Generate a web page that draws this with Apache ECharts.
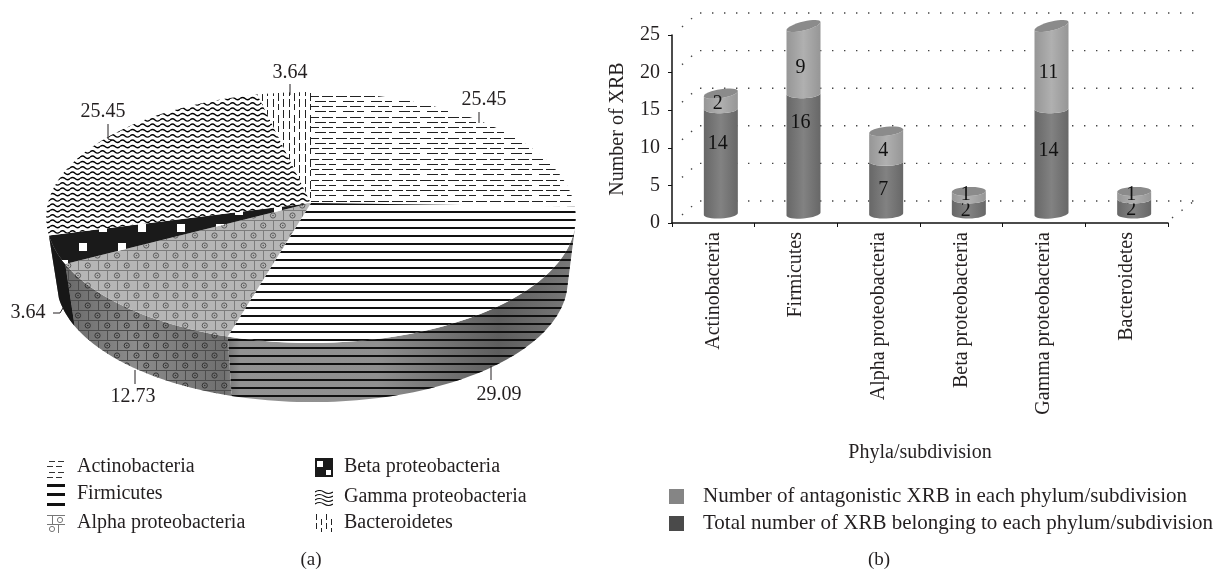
<!DOCTYPE html>
<html>
<head>
<meta charset="utf-8">
<style>html,body{margin:0;padding:0;background:#fff}#main{width:1218px;height:573px}</style>
<script src="https://cdn.jsdelivr.net/npm/echarts@6/dist/echarts.min.js"></script>
</head>
<body>
<div id="main"></div>
<script>
// (a) share of each phylum
var pieNames = ['Actinobacteria', 'Firmicutes', 'Alpha proteobacteria', 'Beta proteobacteria', 'Gamma proteobacteria', 'Bacteroidetes'];
var pieValues = [25.45, 29.09, 12.73, 3.64, 25.45, 3.64];

// (b) stacked cylinders
var phyla = ['Actinobacteria', 'Firmicutes', 'Alpha proteobacteria', 'Beta proteobacteria', 'Gamma proteobacteria', 'Bacteroidetes'];
var totalXRB = [14, 16, 7, 2, 14, 2];
var antagonisticXRB = [2, 9, 4, 1, 11, 1];
var yTicks = [0, 5, 10, 15, 20, 25];

var FONT = '"Liberation Serif", serif';
var INK = '#231f20';
var FS = 20;

// label placement, not data
var pieLabelAt = [[484, 100], [499, 395], [133, 397], [28, 313], [103, 112], [290, 73]];
var pieLeaders = [
    [[479, 112], [479, 123]],
    [[491, 366], [491, 380]],
    [[135, 370], [135, 384]],
    [[53, 313], [60, 313], [63, 308]],
    [[108, 124], [108, 139], [112, 140]],
    [[290, 84], [290, 95]]
];
var darkLabelNudge = [-18, -31, 2, 4, -11, 3.5];
var lightLabelNudge = [2.5, 8, 4.5, 0, 5, 0];

// ---------- fill patterns ----------
function tile(w, h, draw) {
    var c = document.createElement('canvas');
    c.width = w;
    c.height = h;
    draw(c.getContext('2d'));
    return {image: c, repeat: 'repeat'};
}

var patActino = tile(28, 21, function (g) {
    g.fillStyle = '#fff';
    g.fillRect(0, 0, 28, 21);
    g.fillStyle = '#222';
    for (var r = 0; r < 4; r++) {
        var off = r % 2 ? 7 : 0;
        var y = Math.round(r * 5.25) + 1;
        g.fillRect(off, y, 11, 1);
        g.fillRect((off + 14) % 28, y, 11, 1);
    }
});

function linesTile(bg) {
    return tile(8, 8, function (g) {
        if (bg) {
            g.fillStyle = bg;
            g.fillRect(0, 0, 8, 8);
        }
        g.fillStyle = '#111';
        g.fillRect(0, 3, 8, 2);
    });
}
var patFirm = linesTile('#fff');
var patFirmWall = linesTile(null);

function brickTile(bg, line, dot) {
    return tile(39, 20, function (g) {
        if (bg) {
            g.fillStyle = bg;
            g.fillRect(0, 0, 39, 20);
        }
        g.strokeStyle = line;
        g.lineWidth = 1;
        g.beginPath();
        g.moveTo(0, 0.5); g.lineTo(39, 0.5);
        g.moveTo(0, 10.5); g.lineTo(39, 10.5);
        [0, 19.5].forEach(function (x) {
            g.moveTo(Math.round(x) + 0.5, 0); g.lineTo(Math.round(x) + 0.5, 10);
            g.moveTo(Math.round(x + 9.75) + 0.5, 10); g.lineTo(Math.round(x + 9.75) + 0.5, 20);
        });
        g.stroke();
        g.strokeStyle = dot;
        g.fillStyle = dot;
        [[9.75, 5.5], [29.25, 5.5], [0, 15.5], [19.5, 15.5], [39, 15.5]].forEach(function (p) {
            g.beginPath();
            g.arc(p[0], p[1], 2.6, 0, Math.PI * 2);
            g.stroke();
            g.beginPath();
            g.arc(p[0], p[1], 0.8, 0, Math.PI * 2);
            g.fill();
        });
    });
}
var patAlpha = brickTile('#b6b6b6', '#7d7d7d', '#5a5a5a');
var patAlphaWall = brickTile(null, '#4d4d4d', '#333');

var patBeta = tile(39, 36, function (g) {
    g.fillStyle = '#1a1a1a';
    g.fillRect(0, 0, 39, 36);
    g.fillStyle = '#fff';
    g.fillRect(1, 27, 8, 8);
    g.fillRect(21, 8, 8, 8);
});

var patGamma = tile(10, 16, function (g) {
    g.fillStyle = '#fff';
    g.fillRect(0, 0, 10, 16);
    g.strokeStyle = '#000';
    g.lineWidth = 1.4;
    for (var r = 0; r < 3; r++) {
        var y = r * 5.33 + 2.6;
        g.beginPath();
        g.moveTo(0, y);
        g.quadraticCurveTo(2.5, y - 2.4, 5, y);
        g.quadraticCurveTo(7.5, y + 2.4, 10, y);
        g.stroke();
    }
});

var patBact = tile(16, 22, function (g) {
    g.fillStyle = '#fff';
    g.fillRect(0, 0, 16, 22);
    g.fillStyle = '#222';
    [[1, 0], [6, 5], [11, 0]].forEach(function (c) {
        g.fillRect(c[0], c[1], 1, 8);
        g.fillRect(c[0], c[1] + 11, 1, 8);
    });
});

// legend swatches are small crops of the patterns, drawn once each
var swatches = [
    tile(18, 18, function (g) {
        g.fillStyle = '#333';
        [1, 6, 12, 17].forEach(function (y, r) {
            g.fillRect(r % 2 ? 0 : 2, y, 6, 1);
            g.fillRect(r % 2 ? 9 : 11, y, 6, 1);
        });
    }),
    tile(18, 22, function (g) {
        g.fillStyle = '#111';
        g.fillRect(0, 0, 18, 3);
        g.fillRect(0, 9, 18, 3);
        g.fillRect(0, 19, 18, 3);
    }),
    tile(18, 18, function (g) {
        g.strokeStyle = '#777';
        g.beginPath();
        g.moveTo(0, 0.5); g.lineTo(18, 0.5);
        g.moveTo(5.5, 0); g.lineTo(5.5, 9);
        g.moveTo(0, 9.5); g.lineTo(18, 9.5);
        g.moveTo(11.5, 9); g.lineTo(11.5, 18);
        g.stroke();
        g.beginPath();
        g.arc(13, 5, 2.6, 0, Math.PI * 2);
        g.stroke();
        g.beginPath();
        g.arc(5, 14, 2.6, 0, Math.PI * 2);
        g.stroke();
    }),
    tile(18, 19, function (g) {
        g.fillStyle = '#1a1a1a';
        g.fillRect(0, 0, 18, 19);
        g.fillStyle = '#fff';
        g.fillRect(2, 3, 6, 6);
        g.fillRect(11, 12, 5, 5);
    }),
    tile(18, 18, function (g) {
        g.strokeStyle = '#111';
        g.lineWidth = 1.1;
        [2, 6, 10, 14].forEach(function (y) {
            g.beginPath();
            g.moveTo(0, y);
            g.quadraticCurveTo(4.5, y - 3, 9, y);
            g.quadraticCurveTo(13.5, y + 3, 18, y);
            g.stroke();
        });
    }),
    tile(18, 18, function (g) {
        g.fillStyle = '#222';
        [[1, 0], [6, 5], [11, 0], [16, 5]].forEach(function (c) {
            g.fillRect(c[0], c[1], 1, 6);
            g.fillRect(c[0], c[1] + 9, 1, 6);
        });
    })
];

var topFills = [patActino, patFirm, patAlpha, patBeta, patGamma, patBact];
var wallFills = [null, patFirmWall, patAlphaWall, '#171717', null, null];

// ---------- pie geometry: circle seen through a perspective tilt ----------
var lid = {cx: 311, cy: 203, r: 263, s: 123.8, p: 0.1155};
var floor = {cx: 312, cy: 267, r: 254, s: 119.5, p: 0.1155};
var WALL_FROM = 11; // the wall only shows past this angle on the right

function piePoint(disc, deg) {
    var a = deg * Math.PI / 180;
    var w = 1 - disc.p * Math.sin(a);
    return [disc.cx + disc.r * Math.cos(a) / w, disc.cy + disc.s * Math.sin(a) / w];
}
function arcPoints(disc, from, to) {
    var pts = [];
    var n = Math.max(2, Math.ceil(Math.abs(to - from) / 1.5));
    for (var i = 0; i <= n; i++) {
        pts.push(piePoint(disc, from + (to - from) * i / n));
    }
    return pts;
}
var pieSum = pieValues.reduce(function (a, b) { return a + b; }, 0);
var pieAngles = [];
var cursor = -90;
pieValues.forEach(function (v) {
    var next = cursor + v / pieSum * 360;
    pieAngles.push([cursor, next]);
    cursor = next;
});
var WALL_TO = pieAngles[3][1]; // beta edge, nothing further round is visible

function renderPieWall(params) {
    var i = params.dataIndex;
    if (!wallFills[i]) {
        return null;
    }
    var from = Math.max(pieAngles[i][0], WALL_FROM);
    var to = Math.min(pieAngles[i][1], WALL_TO);
    var pts = arcPoints(lid, from, to).concat(arcPoints(floor, to, from));
    return {
        type: 'group',
        children: [
            {
                type: 'polygon',
                shape: {points: pts},
                style: {
                    fill: {
                        type: 'linear', global: true, x: 50, y: 0, x2: 578, y2: 0,
                        colorStops: [
                            {offset: 0, color: '#626262'},
                            {offset: 0.16, color: '#8c8c8c'},
                            {offset: 0.33, color: '#6f6f6f'},
                            {offset: 0.36, color: '#929292'},
                            {offset: 0.62, color: '#8f8f8f'},
                            {offset: 0.85, color: '#5e5e5e'},
                            {offset: 1, color: '#7a7a7a'}
                        ]
                    }
                }
            },
            {type: 'polygon', shape: {points: pts}, style: {fill: wallFills[i]}}
        ]
    };
}

function renderPieTop(params) {
    var i = params.dataIndex;
    var pts = [[lid.cx, lid.cy]].concat(arcPoints(lid, pieAngles[i][0], pieAngles[i][1]));
    return {type: 'polygon', shape: {points: pts}, style: {fill: topFills[i]}};
}

function renderPieLabel(params, api) {
    var i = params.dataIndex;
    return {
        type: 'group',
        children: [
            {
                type: 'polyline',
                shape: {points: pieLeaders[i]},
                style: {stroke: INK, lineWidth: 1, fill: null}
            },
            {
                type: 'text',
                x: pieLabelAt[i][0],
                y: pieLabelAt[i][1],
                style: {
                    text: api.value(0).toFixed(2),
                    fill: INK,
                    font: FS + 'px ' + FONT,
                    align: 'center',
                    verticalAlign: 'middle'
                }
            }
        ]
    };
}

// ---------- cylinders ----------
var BAR_W = 34;
var BAR_DX = 7.5;
var BAR_DY = -9;
var CAP_RY = 4.5;

function frontArc(cx, y, tilt, leftToRight) {
    var pts = [];
    for (var k = 0; k <= 16; k++) {
        var t = Math.PI * (leftToRight ? k : 16 - k) / 16;
        pts.push([cx - BAR_W / 2 * Math.cos(t), y + tilt / 2 * Math.cos(t) + CAP_RY * Math.sin(t)]);
    }
    return pts;
}

function cylinderRenderer(edge, middle, nudge, capped) {
    return function (params, api) {
        var i = api.value(0);
        var lo = api.value(1);
        var hi = api.value(2);
        var cx = api.coord([i, 0])[0] + BAR_DX;
        var yLo = api.coord([i, lo])[1] + BAR_DY;
        var yHi = api.coord([i, hi])[1] + BAR_DY;
        var tiltLo = lo === 0 ? (totalXRB[i] + antagonisticXRB[i]) * 0.12 : lo * 0.05;
        var tiltHi = capped ? hi * 0.32 : hi * 0.05;
        var pts = frontArc(cx, yLo, tiltLo, true).concat(frontArc(cx, yHi, tiltHi, false));
        var children = [{
            type: 'polygon',
            shape: {points: pts},
            style: {
                fill: {
                    type: 'linear', x: 0, y: 0, x2: 1, y2: 0,
                    colorStops: [
                        {offset: 0, color: edge},
                        {offset: 0.5, color: middle},
                        {offset: 1, color: edge}
                    ]
                }
            }
        }];
        if (capped) {
            var cap = frontArc(cx, yHi, tiltHi, true);
            for (var k = 15; k > 0; k--) {
                var p = cap[k];
                var yMid = yHi + tiltHi / 2 * ((cx - p[0]) / (BAR_W / 2));
                cap.push([p[0], 2 * yMid - p[1]]);
            }
            children.push({type: 'polygon', shape: {points: cap}, style: {fill: '#8b8b8b'}});
        }
        children.push({
            type: 'text',
            x: cx - 3,
            y: (yLo + yHi) / 2 + nudge[i],
            style: {
                text: String(hi - lo),
                fill: '#111',
                font: FS + 'px ' + FONT,
                align: 'center',
                verticalAlign: 'middle'
            }
        });
        return {type: 'group', children: children};
    };
}

function renderBackWall(params, api) {
    var box = params.coordSys;
    var y = api.coord([0, api.value(0)])[1];
    var dx = 26, dy = -22;
    var dots = {stroke: '#444', lineWidth: 1.4, lineDash: [1.4, 10.6], fill: null};
    var children = [
        {type: 'polyline', shape: {points: [[box.x + dx + 2, y + dy], [box.x + box.width + dx, y + dy]]}, style: dots},
        {type: 'polyline', shape: {points: [[box.x + 10, y - 8], [box.x + dx, y + dy]]}, style: dots}
    ];
    if (api.value(0) === 0) {
        children.push({
            type: 'polyline',
            shape: {points: [[box.x + box.width + 4, y - 5], [box.x + box.width + dx, y + dy]]},
            style: dots
        });
    }
    return {type: 'group', children: children};
}

var darkRows = phyla.map(function (n, i) { return [i, 0, totalXRB[i]]; });
var lightRows = phyla.map(function (n, i) { return [i, totalXRB[i], totalXRB[i] + antagonisticXRB[i]]; });

// ---------- legend of panel (a), patterned swatches ----------
var legendSlots = [
    {x: 47, y: 460, h: 18, tx: 77, ty: 467},
    {x: 47, y: 484, h: 22, tx: 77, ty: 494},
    {x: 47, y: 515, h: 18, tx: 77, ty: 523},
    {x: 315, y: 458, h: 19, tx: 344, ty: 467},
    {x: 315, y: 490, h: 17, tx: 344, ty: 497},
    {x: 315, y: 514, h: 18, tx: 344, ty: 523}
];
var graphics = [];
pieNames.forEach(function (name, i) {
    var s = legendSlots[i];
    graphics.push({
        type: 'rect',
        x: s.x,
        y: s.y,
        shape: {x: 0, y: 0, width: 18, height: s.h},
        style: {fill: swatches[i]},
        silent: true
    });
    graphics.push({
        type: 'text',
        x: s.tx,
        y: s.ty,
        style: {text: name, fill: INK, font: FS + 'px ' + FONT, verticalAlign: 'middle'},
        silent: true
    });
});
[['(a)', 311], ['(b)', 879]].forEach(function (c) {
    graphics.push({
        type: 'text',
        x: c[1],
        y: 560,
        style: {text: c[0], fill: INK, font: '19px ' + FONT, align: 'center', verticalAlign: 'middle'},
        silent: true
    });
});

var chart = echarts.init(document.getElementById('main'), null, {renderer: 'canvas'});
chart.setOption({
    animation: false,
    backgroundColor: '#fff',
    tooltip: {show: false},
    graphic: graphics,
    legend: {
        left: 664,
        top: 481,
        orient: 'vertical',
        icon: 'rect',
        itemWidth: 15,
        itemHeight: 15,
        itemGap: 6,
        selectedMode: false,
        data: ['Number of antagonistic XRB in each phylum/subdivision', 'Total number of XRB belonging to each phylum/subdivision'],
        textStyle: {color: INK, fontFamily: FONT, fontSize: 21, padding: [0, 0, 0, 14]}
    },
    grid: {left: 672, top: 35, width: 496, height: 188},
    xAxis: {
        type: 'category',
        data: phyla,
        name: 'Phyla/subdivision',
        nameLocation: 'middle',
        nameGap: 220,
        nameTextStyle: {color: INK, fontFamily: FONT, fontSize: FS},
        axisLine: {lineStyle: {color: '#111', width: 1.5}},
        axisTick: {show: true, length: 4, lineStyle: {color: '#111'}},
        axisLabel: {
            rotate: 90,
            interval: 0,
            margin: 9,
            color: INK,
            fontFamily: FONT,
            fontSize: FS
        }
    },
    yAxis: {
        type: 'value',
        min: 0,
        max: 25,
        interval: 5,
        name: 'Number of XRB',
        nameLocation: 'middle',
        nameRotate: 90,
        nameGap: 44,
        nameTextStyle: {color: INK, fontFamily: FONT, fontSize: FS},
        axisLine: {show: true, lineStyle: {color: '#111', width: 1.5}},
        axisTick: {show: true, length: 4, lineStyle: {color: '#111'}},
        splitLine: {show: false},
        axisLabel: {margin: 12, color: INK, fontFamily: FONT, fontSize: FS}
    },
    series: [
        {
            type: 'custom', name: 'pieWall', coordinateSystem: 'none', silent: true, z: 1,
            data: pieValues, renderItem: renderPieWall
        },
        {
            type: 'custom', name: 'pieTop', coordinateSystem: 'none', silent: true, z: 2,
            data: pieValues, renderItem: renderPieTop
        },
        {
            type: 'custom', name: 'pieLabels', coordinateSystem: 'none', silent: true, z: 3,
            data: pieValues, renderItem: renderPieLabel
        },
        {
            type: 'custom', name: 'backWall', silent: true, z: 1,
            xAxisIndex: 0, yAxisIndex: 0,
            data: yTicks.map(function (t) { return [t]; }),
            encode: {y: 0},
            renderItem: renderBackWall
        },
        {
            type: 'custom', name: 'Total number of XRB belonging to each phylum/subdivision',
            silent: true, z: 3, xAxisIndex: 0, yAxisIndex: 0,
            itemStyle: {color: '#4a4a4a'},
            data: darkRows,
            encode: {x: 0, y: 2},
            renderItem: cylinderRenderer('#676767', '#828282', darkLabelNudge, false)
        },
        {
            type: 'custom', name: 'Number of antagonistic XRB in each phylum/subdivision',
            silent: true, z: 4, xAxisIndex: 0, yAxisIndex: 0,
            itemStyle: {color: '#858585'},
            data: lightRows,
            encode: {x: 0, y: 2},
            renderItem: cylinderRenderer('#969696', '#b0b0b0', lightLabelNudge, true)
        }
    ]
});
</script>
</body>
</html>
